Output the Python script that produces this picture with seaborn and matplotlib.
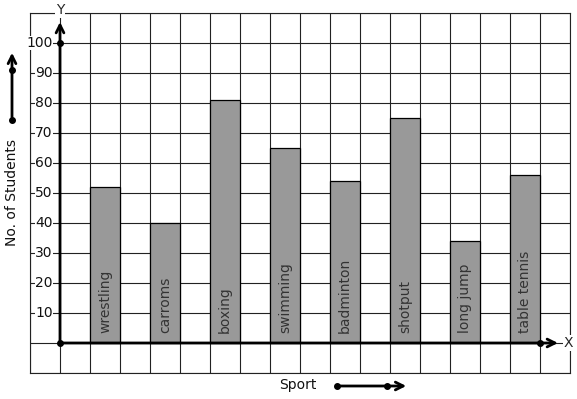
import numpy as np
import pandas as pd
import matplotlib
matplotlib.use("Agg")
import matplotlib.pyplot as plt
import seaborn as sns

# data
sports = ["wrestling", "carroms", "boxing", "swimming", "badminton", "shotput", "long jump", "table tennis"]
students = [52, 40, 81, 65, 54, 75, 34, 56]
y_tick_values = [10, 20, 30, 40, 50, 60, 70, 80, 90, 100]

sns.set_theme(style="white")
plt.rcParams['font.family'] = ['DejaVu Sans']

df = pd.DataFrame({"sport": sports, "students": students})

fig = plt.figure(figsize=(5.77, 3.99), dpi=100)
ax = fig.add_axes([30 / 577, 26 / 399, 540 / 577, 360 / 399])

sns.barplot(data=df, x="sport", y="students", color="#999999", saturation=1,
            edgecolor="black", linewidth=0.9, width=0.5, ax=ax, zorder=3)

# graph-paper grid: one cell = half a category step, 10 students
ax.set_xlim(-1.25, 7.75)
ax.set_ylim(-10, 110)
ax.set_xticks(np.arange(-1.25, 7.76, 0.5))
ax.set_yticks(np.arange(-10, 111, 10))
ax.set_xticklabels([])
ax.set_yticklabels([])
ax.tick_params(length=0)
ax.set_xlabel("")
ax.set_ylabel("")
ax.set_axisbelow(True)
ax.grid(True, color="#222222", linewidth=0.8)
for s in ax.spines.values():
    s.set_color("#222222")
    s.set_linewidth(0.8)

# axes with arrows
x0 = -0.75
ax.annotate("", xy=(x0, 107), xytext=(x0, 0),
            arrowprops=dict(arrowstyle="->", lw=2, color="black", mutation_scale=14,
                            shrinkA=0, shrinkB=0), zorder=5)
ax.annotate("", xy=(7.55, 0), xytext=(x0, 0),
            arrowprops=dict(arrowstyle="->", lw=2, color="black", mutation_scale=14,
                            shrinkA=0, shrinkB=0), zorder=5)
ax.plot([x0, x0, 7.25], [0, 100, 0], "o", color="black", markersize=4, zorder=6, clip_on=False)

ax.text(x0, 111, "Y", ha="center", va="center", fontsize=10, clip_on=False,
        bbox=dict(facecolor="white", edgecolor="none", pad=0.5), zorder=6)
ax.text(7.72, 0, "X", ha="center", va="center", fontsize=10, clip_on=False,
        bbox=dict(facecolor="white", edgecolor="none", pad=0.5), zorder=6)

for v in y_tick_values:
    ax.text(-0.87, v, str(v), ha="right", va="center", fontsize=10, color="#111111",
            bbox=dict(facecolor="white", edgecolor="none", pad=0.3), zorder=4)

# sport names inside the bars
for i, name in enumerate(sports):
    ax.text(i, 3.3, name, rotation=90, ha="center", va="bottom", fontsize=10,
            color="#333333", zorder=4)

# outside labels with little arrows
fig.text(12 / 577, 1 - 192 / 399, "No. of Students", rotation=90, ha="center", va="center",
         fontsize=10, color="#111111")
fig.text(298 / 577, 14 / 399, "Sport", ha="center", va="center", fontsize=10, color="#111111")

fig.add_artist(matplotlib.patches.FancyArrowPatch((12, 279), (12, 349), transform=None,
               arrowstyle="->", mutation_scale=14, lw=2, color="black"))
fig.add_artist(matplotlib.patches.FancyArrowPatch((337, 13), (409, 13), transform=None,
               arrowstyle="->", mutation_scale=14, lw=2, color="black"))
fig.add_artist(matplotlib.lines.Line2D([12, 12, 337, 387], [279, 329, 13, 13], transform=None,
               marker="o", markersize=4, linestyle="none", color="black"))

fig.savefig("out.png", dpi=100)
